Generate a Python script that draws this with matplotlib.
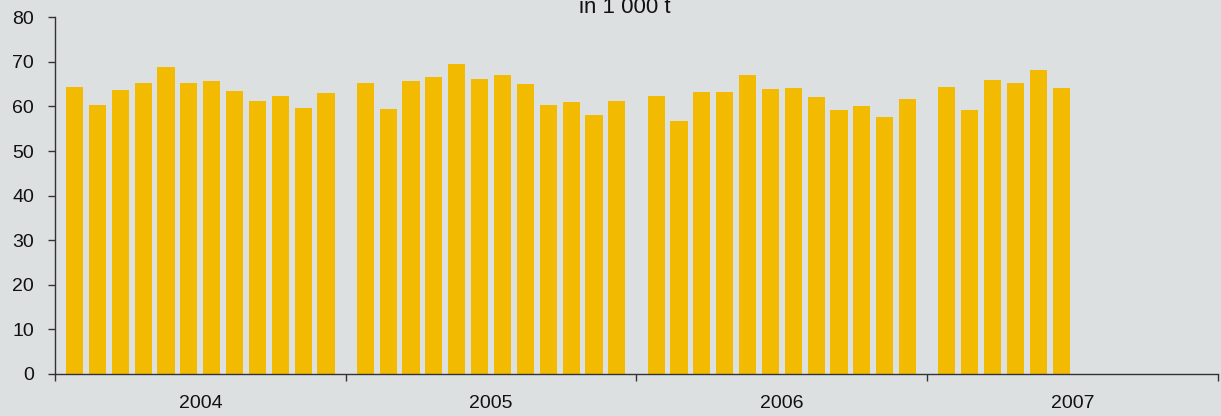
import numpy as np
import matplotlib.pyplot as plt

plt.rcParams['font.family'] = ['Liberation Sans', 'DejaVu Sans']

# monthly values, in 1 000 t
years = ['2004', '2005', '2006', '2007']
v2004 = [64.3, 60.3, 63.7, 65.2, 68.8, 65.2, 65.7, 63.4, 61.2, 62.3, 59.6, 63.0]
v2005 = [65.2, 59.4, 65.7, 66.6, 69.5, 66.1, 67.0, 65.0, 60.3, 61.0, 58.0, 61.2]
v2006 = [62.3, 56.7, 63.2, 63.2, 67.0, 63.9, 64.1, 62.1, 59.2, 60.0, 57.6, 61.6]
v2007 = [64.3, 59.2, 65.9, 65.2, 68.2, 64.1]
y_ticks = [0, 10, 20, 30, 40, 50, 60, 70, 80]

bg = '#dde0e1'
bar_color = '#f2ba00'
axis_color = '#333333'

fig = plt.figure(figsize=(12.21, 4.16), dpi=100, facecolor=bg)
ax = fig.add_axes([0.045, 0.102, 0.9525, 0.856])
ax.set_facecolor(bg)

# each year block is 12.72 slot widths wide, months start 0.86 in
span = 12.72
offset = 0.86
for i, vals in enumerate([v2004, v2005, v2006, v2007]):
    x = i * span + offset + np.arange(len(vals))
    ax.bar(x, vals, width=0.75, color=bar_color, linewidth=0)

ax.set_xlim(0, span * len(years))
ax.set_ylim(0, 80)
ax.set_yticks(y_ticks)
ax.set_yticklabels([str(t) for t in y_ticks])

bounds = [i * span for i in range(len(years) + 1)]
ax.set_xticks(bounds)
ax.set_xticklabels([''] * len(bounds))
ax.set_xticks([i * span + span / 2 for i in range(len(years))], minor=True)
ax.set_xticklabels(years, minor=True)

ax.tick_params(axis='x', which='major', direction='out', length=5, width=1,
               color=axis_color)
ax.tick_params(axis='x', which='minor', length=0, pad=15.5, labelsize=14,
               labelcolor='#111111')
ax.tick_params(axis='y', direction='out', length=5, width=1, color=axis_color,
               pad=10, labelsize=14, labelcolor='#111111')

for s in ['top', 'right']:
    ax.spines[s].set_visible(False)
for s in ['left', 'bottom']:
    ax.spines[s].set_color(axis_color)
    ax.spines[s].set_linewidth(1)

# unit label sits at the very top edge, partly clipped as in the source
fig.text(0.512, (416 - 13) / 416, 'in 1 000 t', ha='center', va='baseline',
         fontsize=16, color='#111111')

fig.savefig('out.png', dpi=100, facecolor=bg)
